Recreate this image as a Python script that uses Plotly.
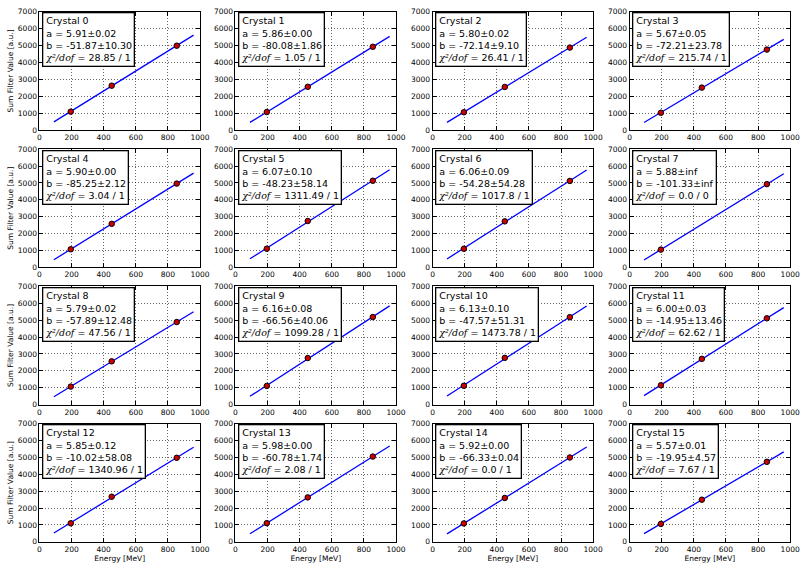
import plotly.graph_objects as go

# Beam energies [MeV] and measured sum-filter values per crystal
energies = [195, 450, 855]
energies_c7 = [195, 855]

crystal_ids = list(range(16))
slope = [5.91, 5.86, 5.80, 5.67, 5.90, 6.07, 6.06, 5.88,
         5.79, 6.16, 6.13, 6.00, 5.85, 5.98, 5.92, 5.57]
slope_err = ["0.02", "0.00", "0.02", "0.05", "0.00", "0.10", "0.09", "inf",
             "0.02", "0.08", "0.10", "0.03", "0.12", "0.00", "0.00", "0.01"]
offset = [-51.87, -80.08, -72.14, -72.21, -85.25, -48.23, -54.28, -101.33,
          -57.89, -66.56, -47.57, -14.95, -10.02, -60.78, -66.33, -19.95]
offset_err = ["10.30", "1.86", "9.10", "23.78", "2.12", "58.14", "54.28", "inf",
              "12.48", "40.06", "51.31", "13.46", "58.08", "1.74", "0.04", "4.57"]
chi2 = ["28.85", "1.05", "26.41", "215.74", "3.04", "1311.49", "1017.8", "0.0",
        "47.56", "1099.28", "1473.78", "62.62", "1340.96", "2.08", "0.0", "7.67"]
ndof = [1, 1, 1, 1, 1, 1, 1, 0, 1, 1, 1, 1, 1, 1, 1, 1]

values = [
    [1085, 2625, 4995],
    [1062, 2558, 4930],
    [1050, 2550, 4882],
    [1020, 2510, 4765],
    [1063, 2572, 4958],
    [1100, 2740, 5125],
    [1095, 2720, 5115],
    [1045, 4926],
    [1060, 2560, 4888],
    [1100, 2755, 5185],
    [1110, 2765, 5178],
    [1140, 2705, 5110],
    [1095, 2670, 4978],
    [1104, 2632, 5051],
    [1088, 2598, 4995],
    [1060, 2495, 4740],
]

fit_range = [90, 960]
x_ticks = [0, 200, 400, 600, 800, 1000]
y_ticks = [0, 1000, 2000, 3000, 4000, 5000, 6000, 7000]

W, H = 811, 564
col_left = [38, 237, 437, 637]
panel_w = 163
row_top = [8, 147.5, 287, 426.5]
panel_h = 120

fig = go.Figure()
layout = dict(
    width=W, height=H,
    margin=dict(l=0, r=0, t=0, b=0),
    paper_bgcolor="white", plot_bgcolor="white",
    showlegend=False,
    font=dict(family="DejaVu Sans", size=8, color="black"),
)
annotations = []

for i in crystal_ids:
    r, c = divmod(i, 4)
    n = "" if i == 0 else str(i + 1)
    xa, ya = "x" + n, "y" + n

    x0 = col_left[c] / W
    x1 = (col_left[c] + panel_w) / W
    y1 = 1 - row_top[r] / H
    y0 = 1 - (row_top[r] + panel_h) / H

    common = dict(
        showline=True, linecolor="black", linewidth=1, mirror="ticks",
        ticks="inside", ticklen=4, tickwidth=1, tickcolor="black",
        showgrid=True, gridcolor="rgba(0,0,0,0.6)", gridwidth=0.8,
        griddash="1px,2px",
        zeroline=False, tickfont=dict(size=7.5, family="DejaVu Sans", color="black"),
    )
    xax = dict(common, domain=[x0, x1], anchor=ya, range=[0, 1000],
               tickvals=x_ticks, ticktext=[str(v) for v in x_ticks])
    if r == 3:
        xax["title"] = dict(text="Energy [MeV]", font=dict(size=7.5), standoff=2)
    yax = dict(common, domain=[y0, y1], anchor=xa, range=[0, 7000],
               tickvals=y_ticks, ticktext=[str(v) for v in y_ticks])
    if c == 0:
        yax["title"] = dict(text="Sum Filter Value [a.u.]", font=dict(size=7.5), standoff=3)
    layout["xaxis" + n] = xax
    layout["yaxis" + n] = yax

    xs = energies_c7 if i == 7 else energies
    fit_y = [slope[i] * x + offset[i] for x in fit_range]
    fig.add_trace(go.Scatter(
        x=fit_range, y=fit_y, mode="lines", xaxis=xa, yaxis=ya,
        line=dict(color="#0000ff", width=1.3), hoverinfo="skip",
    ))
    fig.add_trace(go.Scatter(
        x=xs, y=values[i], mode="markers", xaxis=xa, yaxis=ya,
        marker=dict(color="#cc0000", size=5.5, line=dict(color="black", width=1)),
    ))

    text = (
        f"Crystal {i}<br>"
        f"a = {slope[i]:.2f}±{slope_err[i]}<br>"
        f"b = {offset[i]:.2f}±{offset_err[i]}<br>"
        f"<span style='font-family:DejaVu Serif'><i>χ²/dof</i></span>"
        f" = {chi2[i]} / {ndof[i]}"
    )
    annotations.append(dict(
        xref=xa + " domain", yref=ya + " domain", x=0.018, y=0.995,
        xanchor="left", yanchor="top", showarrow=False, align="left",
        text=text, font=dict(size=9.5, family="DejaVu Sans", color="black"),
        bgcolor="white", bordercolor="black", borderwidth=1.3, borderpad=2,
    ))

layout["annotations"] = annotations
fig.update_layout(**layout)
fig.write_html("out.html")
